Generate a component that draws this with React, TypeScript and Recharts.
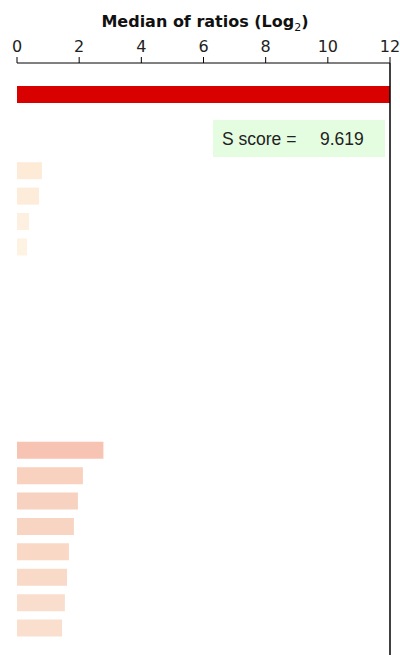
import React from 'react';
import { BarChart, Bar, XAxis, YAxis, Cell, ReferenceLine } from 'recharts';

// one slot per row, top to bottom; null = empty row
const rows = [
  'r0', 'r1', 'r2', 'r3', 'r4', 'r5', 'r6', 'r7', 'r8', 'r9', 'r10',
  'r11', 'r12', 'r13', 'r14', 'r15', 'r16', 'r17', 'r18', 'r19', 'r20', 'r21',
];
const medians = [
  12, null, null, 0.8, 0.71, 0.39, 0.32, null, null, null, null,
  null, null, null, 2.78, 2.12, 1.96, 1.83, 1.67, 1.61, 1.54, 1.45,
];
const xTicks = [0, 2, 4, 6, 8, 10, 12];
const sScore = '9.619';

const barColors = [
  '#d90000', '#fff', '#fff', '#fdebd8', '#fdecda', '#fdf0e0', '#fef2e2', '#fff', '#fff', '#fff', '#fff',
  '#fff', '#fff', '#fff', '#f7c4b3', '#f8d1bf', '#f8d2c0', '#f8d4c2', '#f9d8c6', '#f9d9c8', '#fadecd', '#fadfcf',
];

const data = rows.map((name, i) => ({ name, value: medians[i] }));

export default function App() {
  return (
    <div
      style={{
        position: 'relative',
        width: 400,
        height: 655,
        overflow: 'hidden',
        fontFamily: 'DejaVu Sans',
      }}
    >
      <style>{'body { margin: 0; }'}</style>
      <div
        style={{
          position: 'absolute',
          top: 12,
          left: 95,
          width: 220,
          textAlign: 'center',
          fontWeight: 'bold',
          fontSize: 16,
          color: '#111',
          whiteSpace: 'nowrap',
        }}
      >
        Median of ratios (Log<sub style={{ fontSize: 11, fontWeight: 'normal' }}>2</sub>)
      </div>
      <div style={{ position: 'absolute', left: 8, top: 8 }}>
        <BarChart
          width={392}
          height={647}
          data={data}
          layout="vertical"
          margin={{ top: 15, right: 10, left: 9, bottom: 0 }}
        >
          <XAxis
            type="number"
            orientation="top"
            domain={[0, 12]}
            ticks={xTicks}
            height={40}
            axisLine={{ stroke: '#000' }}
            tickLine={{ stroke: '#000' }}
            tickSize={6}
            tickMargin={5}
            tick={{ fontSize: 16, fill: '#222', fontFamily: 'DejaVu Sans' }}
            interval={0}
          />
          <YAxis
            type="category"
            dataKey="name"
            width={0}
            tick={false}
            tickLine={false}
            axisLine={{ stroke: '#000', strokeWidth: 1.5 }}
            padding={{ top: 19, bottom: 14 }}
          />
          <ReferenceLine x={12} stroke="#000" strokeWidth={1.5} />
          <Bar dataKey="value" barSize={17} isAnimationActive={false}>
            {data.map((d, i) => (
              <Cell key={d.name} fill={barColors[i]} />
            ))}
          </Bar>
        </BarChart>
      </div>
      <div
        style={{
          position: 'absolute',
          top: 120,
          left: 213,
          width: 172,
          height: 37,
          background: '#e4fde0',
          fontFamily: 'Liberation Sans',
          fontSize: 17.5,
          color: '#222',
        }}
      >
        <span style={{ position: 'absolute', left: 9, top: 9 }}>S score =</span>
        <span style={{ position: 'absolute', left: 107, top: 9 }}>{sScore}</span>
      </div>
    </div>
  );
}
